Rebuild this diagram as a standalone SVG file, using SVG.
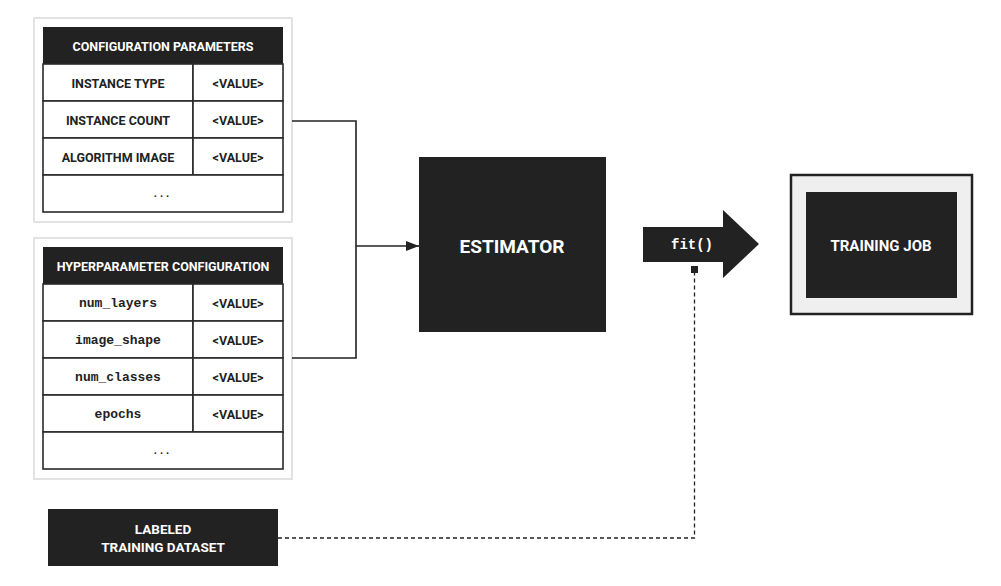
<svg xmlns="http://www.w3.org/2000/svg" width="1001" height="586" viewBox="0 0 1001 586">
<style>
.bg{fill:#ffffff}
.panel{fill:#ffffff;stroke:#e2e2e2;stroke-width:2}
.dark{fill:#222222}
.cell{fill:#ffffff;stroke:#2a2a2a;stroke-width:1.6}
.t{font-family:Roboto,"Liberation Sans",sans-serif;font-weight:700;text-anchor:middle;dominant-baseline:central}
.w{fill:#ffffff}
.k{fill:#222222}
.s{font-size:12.5px}
.m{font-family:"Liberation Mono","DejaVu Sans Mono",monospace;font-weight:700;text-anchor:middle;dominant-baseline:central;fill:#222222;font-size:13px}
.line{fill:none;stroke:#222222;stroke-width:1.6}
.dash{fill:none;stroke:#222222;stroke-width:1.3;stroke-dasharray:4 3}
.dot{fill:#333333}
</style>
<defs>
<marker id="arr" viewBox="0 0 13 10" refX="13" refY="5" markerWidth="13" markerHeight="10" markerUnits="userSpaceOnUse" orient="auto">
<path d="M0,0 L13,5 L0,10 z" fill="#222222"/>
</marker>
</defs>
<rect class="bg" x="0" y="0" width="1001" height="586"/>

<g id="config-params">
<rect class="panel" x="34" y="18" width="258" height="204"/>
<rect class="dark" x="43" y="27" width="240" height="37"/>
<text class="t w s" x="163" y="46">CONFIGURATION PARAMETERS</text>
<rect class="cell" x="43" y="64" width="150" height="37"/>
<rect class="cell" x="193" y="64" width="90" height="37"/>
<rect class="cell" x="43" y="101" width="150" height="37"/>
<rect class="cell" x="193" y="101" width="90" height="37"/>
<rect class="cell" x="43" y="138" width="150" height="37"/>
<rect class="cell" x="193" y="138" width="90" height="37"/>
<rect class="cell" x="43" y="175" width="240" height="37"/>
<text class="t k s" x="118" y="83">INSTANCE TYPE</text>
<text class="t k s" x="238" y="83">&lt;VALUE&gt;</text>
<text class="t k s" x="118" y="120">INSTANCE COUNT</text>
<text class="t k s" x="238" y="120">&lt;VALUE&gt;</text>
<text class="t k s" x="118" y="157">ALGORITHM IMAGE</text>
<text class="t k s" x="238" y="157">&lt;VALUE&gt;</text>
<text class="t k" x="163" y="193" font-size="11" font-weight="400" letter-spacing="3">...</text>
</g>

<g id="hyperparams">
<rect class="panel" x="34" y="238" width="258" height="241"/>
<rect class="dark" x="43" y="247" width="240" height="37"/>
<text class="t w s" x="163" y="266">HYPERPARAMETER CONFIGURATION</text>
<rect class="cell" x="43" y="284" width="150" height="37"/>
<rect class="cell" x="193" y="284" width="90" height="37"/>
<rect class="cell" x="43" y="321" width="150" height="37"/>
<rect class="cell" x="193" y="321" width="90" height="37"/>
<rect class="cell" x="43" y="358" width="150" height="37"/>
<rect class="cell" x="193" y="358" width="90" height="37"/>
<rect class="cell" x="43" y="395" width="150" height="37"/>
<rect class="cell" x="193" y="395" width="90" height="37"/>
<rect class="cell" x="43" y="432" width="240" height="37"/>
<text class="m" x="118" y="303">num_layers</text>
<text class="t k s" x="238" y="303">&lt;VALUE&gt;</text>
<text class="m" x="118" y="340">image_shape</text>
<text class="t k s" x="238" y="340">&lt;VALUE&gt;</text>
<text class="m" x="118" y="377">num_classes</text>
<text class="t k s" x="238" y="377">&lt;VALUE&gt;</text>
<text class="m" x="118" y="414">epochs</text>
<text class="t k s" x="238" y="414">&lt;VALUE&gt;</text>
<text class="t k" x="163" y="450" font-size="11" font-weight="400" letter-spacing="3">...</text>
</g>

<g id="estimator">
<rect class="dark" x="419" y="157" width="187" height="175"/>
<text class="t w" x="512" y="246" font-size="19">ESTIMATOR</text>
</g>

<g id="fit">
<polygon class="dark" points="643,227 723,227 723,210 759,244 723,278 723,262 643,262"/>
<text class="m" x="692" y="245" style="fill:#ffffff;font-size:14px">fit()</text>
</g>

<g id="training-job">
<rect x="791" y="175" width="181" height="139" fill="#efefef" stroke="#222222" stroke-width="2.5"/>
<rect class="dark" x="806" y="192" width="151" height="106"/>
<text class="t w" x="881" y="246" font-size="15">TRAINING JOB</text>
</g>

<g id="dataset">
<rect class="dark" x="48" y="509" width="230" height="57"/>
<text class="t w" x="163" y="529" font-size="13.5">LABELED</text>
<text class="t w" x="163" y="547" font-size="13.5">TRAINING DATASET</text>
</g>

<g id="connectors">
<path class="line" d="M292,121 H356 V358 H292"/>
<path class="line" d="M356,246 H419" marker-end="url(#arr)"/>
<path class="dash" d="M278,538 H694.5 V272"/>
<rect x="691" y="266" width="7" height="7" fill="#222222"/>
</g>
</svg>
